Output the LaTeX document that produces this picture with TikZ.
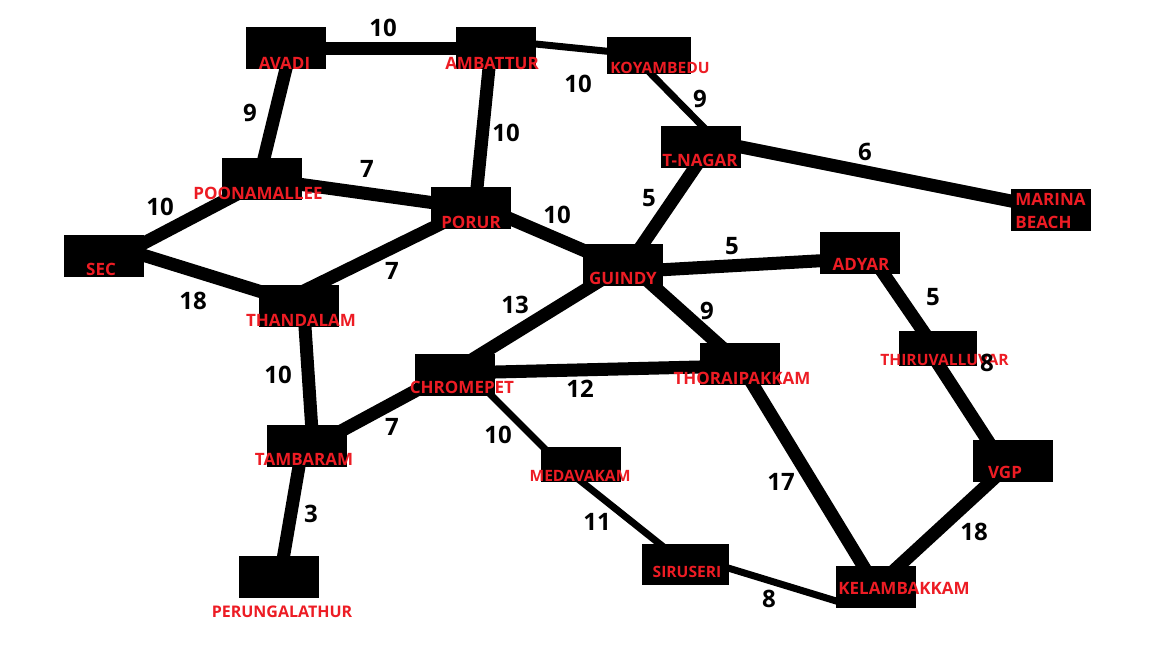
\documentclass[tikz,border=0pt]{standalone}
\usepackage{fontspec}
\setmainfont{Open Sans}
\usepackage{xcolor}
\usepackage{tikz}
\usetikzlibrary{positioning,calc}
\definecolor{stnred}{RGB}{237,28,36}
\pgfdeclarelayer{roads}
\pgfsetlayers{roads,main}

\begin{document}
\begin{tikzpicture}[x=0.5pt, y=-0.5pt,
    stn/.style={fill=black, inner sep=0pt, minimum width=40pt, minimum height=21pt},
    road/.style={line width=6.5pt, line cap=butt},
    lane/.style={line width=3.5pt, line cap=butt},
    lbl/.style={text=stnred, font=\fontsize{8.5}{10}\selectfont\bfseries, inner sep=0pt, anchor=base},
    small/.style={lbl, font=\fontsize{7.8}{9}\selectfont\bfseries},
    wt/.style={font=\fontsize{12}{14}\selectfont\bfseries, inner sep=0pt}]
    \useasboundingbox (0,0) rectangle (1152,648);

    % Stations
    \node[stn] (avadi) at (286,48) {};
    \node[stn] (ambattur) at (496,48) {};
    \node[stn, minimum width=42pt, minimum height=18.5pt] (koyambedu) at (649,55.5) {};
    \node[stn] (tnagar) at (701,147) {};
    \node[stn] (marina) at (1051,210) {};
    \node[stn] (poonamallee) at (262,179) {};
    \node[stn] (porur) at (471,208) {};
    \node[stn] (sec) at (104,256) {};
    \node[stn] (guindy) at (622.5,265) {};
    \node[stn] (adyar) at (860,252.5) {};
    \node[stn] (thandalam) at (299,306) {};
    \node[stn, minimum width=39pt, minimum height=17.5pt] (thiruvalluvar) at (938,348.5) {};
    \node[stn] (chromepet) at (455,374.5) {};
    \node[stn] (thoraipakkam) at (740,363.5) {};
    \node[stn] (tambaram) at (307,446) {};
    \node[stn, minimum height=17.5pt] (medavakam) at (581,464.5) {};
    \node[stn] (vgp) at (1013,461) {};
    \node[stn] (perungalathur) at (279,577) {};
    \node[stn, minimum width=43.5pt, minimum height=20.5pt] (siruseri) at (685.5,564.5) {};
    \node[stn] (kelambakkam) at (876,587) {};

    % Roads
    \begin{pgfonlayer}{roads}
    \fill[white] (0,0) rectangle (1152,648);
    \draw[road] (avadi.center) -- (ambattur.center);
    \draw[lane] ($(ambattur)+(0,-8)$) -- (koyambedu.center);
    \draw[lane] ($(koyambedu)+(-16,0)$) -- ($(tnagar)+(22,0)$);
    \draw[road] ($(avadi)+(5,0)$) -- ($(poonamallee)+(-3,0)$);
    \draw[road] ($(ambattur)+(-5,0)$) -- ($(porur)+(4,0)$);
    \draw[road] (poonamallee.center) -- (porur.center);
    \draw[road] ($(sec)+(0,8)$) -- ($(poonamallee)+(0,2)$);
    \draw[road] ($(sec)+(0,-13)$) -- ($(thandalam)+(0,-2.5)$);
    \draw[road] ($(porur)+(0,1)$) -- ($(thandalam)+(0,-12.6)$);
    \draw[road] ($(porur)+(0,-6)$) -- ($(guindy)+(0,2)$);
    \draw[road] ($(tnagar)+(8,0)$) -- ($(guindy)+(6,0)$);
    \draw[road] ($(tnagar)+(0,-8)$) -- ($(marina)+(0,-1)$);
    \draw[road] ($(guindy)+(0,7)$) -- ($(adyar)+(0,6)$);
    \draw[road] ($(guindy)+(3,0)$) -- ($(chromepet)+(-7,0)$);
    \draw[road] ($(guindy)+(7.5,0)$) -- (thoraipakkam.center);
    \draw[road] ($(adyar)+(9,0)$) -- ($(thiruvalluvar)+(-3,0)$);
    \draw[road] ($(thiruvalluvar)+(-10,0)$) -- ($(vgp)+(-12,0)$);
    \draw[road] ($(thandalam)+(4.6,0)$) -- ($(tambaram)+(6,0)$);
    \draw[road] ($(chromepet)+(0,-1.5)$) -- ($(thoraipakkam)+(0,2.5)$);
    \draw[road] ($(tambaram)+(0,3.4)$) -- ($(chromepet)+(0,-5)$);
    \draw[lane] ($(chromepet)+(15.5,0)$) -- ($(medavakam)+(-20.5,0)$);
    \draw[lane] ($(medavakam)+(-21,0)$) -- (siruseri.center);
    \draw[lane] ($(siruseri)+(0,-9.5)$) -- ($(kelambakkam)+(-30,17)$);
    \draw[road] (thoraipakkam.center) -- (kelambakkam.center);
    \draw[road] (vgp.center) -- (kelambakkam.center);
    \draw[road] ($(tambaram)+(-4.5,0)$) -- ($(perungalathur)+(1,0)$);
    \end{pgfonlayer}

    % Station names
    \node[lbl] (avadi-t) at (284.5,69) {AVADI};
    \node[lbl] (ambattur-t) at (492,69) {AMBATTUR};
    \node[small] (koyambedu-t) at (660,73) {KOYAMBEDU};
    \node[lbl] (tnagar-t) at (700,166) {T-NAGAR};
    \node[lbl, anchor=base west] (marina-t) at (1015,205) {MARINA};
    \node[lbl, anchor=base west] (beach-t) at (1015,228) {BEACH};
    \node[lbl] (poonamallee-t) at (258,199) {POONAMALLEE};
    \node[lbl] (porur-t) at (471,228) {PORUR};
    \node[lbl] (sec-t) at (101,275) {SEC};
    \node[lbl] (guindy-t) at (623,284) {GUINDY};
    \node[lbl] (adyar-t) at (861,270) {ADYAR};
    \node[lbl] (thandalam-t) at (301,326) {THANDALAM};
    \node[small] (thiruvalluvar-t) at (944.5,365) {THIRUVALLUVAR};
    \node[lbl] (chromepet-t) at (462,393) {CHROMEPET};
    \node[lbl] (thoraipakkam-t) at (742,384) {THORAIPAKKAM};
    \node[lbl] (tambaram-t) at (304,465) {TAMBARAM};
    \node[small] (medavakam-t) at (580,481) {MEDAVAKAM};
    \node[lbl] (vgp-t) at (1005,478) {VGP};
    \node[small, font=\fontsize{8}{9}\selectfont\bfseries] (perungalathur-t) at (282,617) {PERUNGALATHUR};
    \node[small] (siruseri-t) at (687,577) {SIRUSERI};
    \node[lbl] (kelambakkam-t) at (904,594) {KELAMBAKKAM};

    % Distances
    \node[wt] (w1) at (383,28) {10};
    \node[wt] (w2) at (578,84) {10};
    \node[wt] (w3) at (700,99) {9};
    \node[wt] (w4) at (250,113) {9};
    \node[wt] (w5) at (506,133) {10};
    \node[wt] (w6) at (367,169) {7};
    \node[wt] (w7) at (865,152) {6};
    \node[wt] (w8) at (649,198) {5};
    \node[wt] (w9) at (160,207) {10};
    \node[wt] (w10) at (557,215) {10};
    \node[wt] (w11) at (732,246) {5};
    \node[wt] (w12) at (392,271) {7};
    \node[wt] (w13) at (933,297) {5};
    \node[wt] (w14) at (193,301) {18};
    \node[wt] (w15) at (515,305) {13};
    \node[wt] (w16) at (707,311) {9};
    \node[wt] (w17) at (987,363) {8};
    \node[wt] (w18) at (278,375) {10};
    \node[wt] (w19) at (580,389) {12};
    \node[wt] (w20) at (392,427) {7};
    \node[wt] (w21) at (498,435) {10};
    \node[wt] (w22) at (781,482) {17};
    \node[wt] (w23) at (311,514) {3};
    \node[wt] (w24) at (597,522) {11};
    \node[wt] (w25) at (974,532) {18};
    \node[wt] (w26) at (769,599) {8};
\end{tikzpicture}
\end{document}
